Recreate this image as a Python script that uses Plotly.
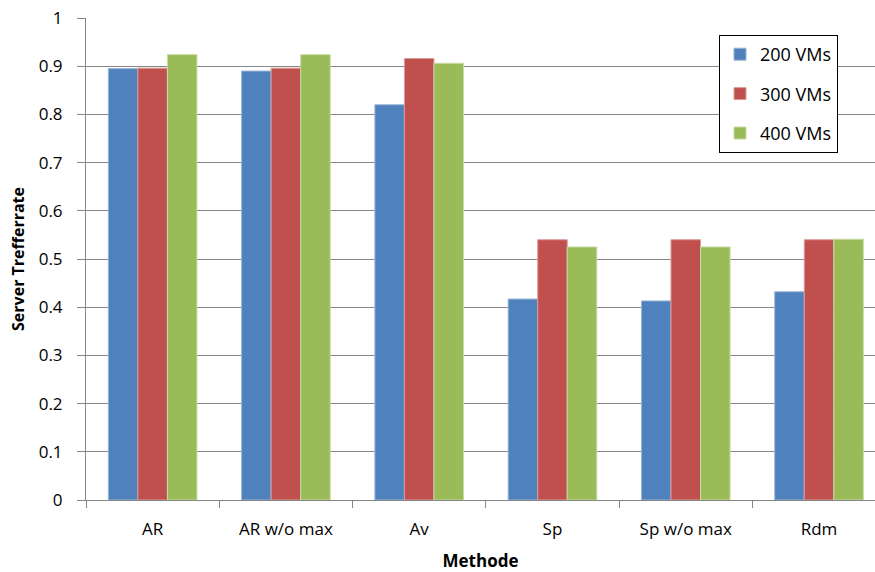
import plotly.graph_objects as go

categories = ["AR", "AR w/o max", "Av", "Sp", "Sp w/o max", "Rdm"]
vms200 = [0.895, 0.890, 0.820, 0.417, 0.413, 0.432]
vms300 = [0.896, 0.896, 0.916, 0.540, 0.540, 0.540]
vms400 = [0.924, 0.924, 0.906, 0.525, 0.525, 0.541]
series_names = ["200 VMs", "300 VMs", "400 VMs"]
colors = ["#4F81BD", "#C0504D", "#9BBB59"]
border = ["#9DB5D8", "#DC9C9A", "#C6DBA5"]

font_family = "Open Sans, Noto Sans, Liberation Sans, sans-serif"

W, H = 875, 572
ML, MR, MT, MB = 86, 0, 18, 72
pw = W - ML - MR
ph = H - MT - MB

fig = go.Figure()
for name, vals, c, b in zip(series_names, [vms200, vms300, vms400], colors, border):
    fig.add_trace(go.Bar(
        x=categories, y=vals, name=name, legendgroup=name,
        marker=dict(color=c, line=dict(color=b, width=1)),
    ))

fig.update_layout(
    width=W, height=H,
    paper_bgcolor="white", plot_bgcolor="white",
    margin=dict(l=ML, r=MR, t=MT, b=MB, autoexpand=False),
    barmode="group", bargap=0.335, bargroupgap=0,
    font=dict(family=font_family, size=17, color="#000000"),
    legend=dict(
        x=(719 - ML) / pw, y=1 - (35 - MT) / ph,
        xanchor="left", yanchor="top",
        bordercolor="#000000", borderwidth=1, bgcolor="white",
        font=dict(size=18), tracegroupgap=13,
    ),
    showlegend=True,
)

fig.update_xaxes(
    range=[-0.5, 5.42], automargin=False,
    showline=True, linecolor="#868686", linewidth=1,
    ticks="outside", tickson="boundaries", ticklen=7, tickcolor="#868686",
    ticklabelstandoff=14,
    showgrid=False,
    title=dict(text="<b>Methode</b>", font=dict(size=17), standoff=20),
)
fig.update_yaxes(
    range=[0, 1], automargin=False,
    tickvals=[0, 0.1, 0.2, 0.3, 0.4, 0.5, 0.6, 0.7, 0.8, 0.9, 1],
    ticktext=["0", "0.1", "0.2", "0.3", "0.4", "0.5", "0.6", "0.7", "0.8", "0.9", "1"],
    showline=True, linecolor="#868686", linewidth=1,
    ticks="outside", ticklen=8, tickcolor="#868686",
    ticklabelstandoff=11,
    showgrid=True, gridcolor="#868686", gridwidth=1,
    zeroline=False,
    title=dict(text="<b>Server Trefferrate</b>", font=dict(size=16), standoff=10),
)

fig.write_html(
    "out.html",
    config={"displayModeBar": False},
    post_script="document.body.style.margin='0';document.body.style.overflow='hidden';",
)
